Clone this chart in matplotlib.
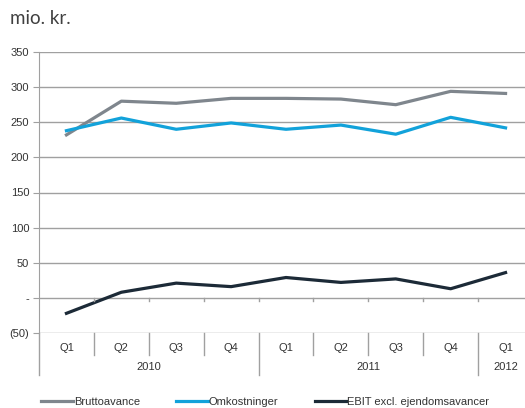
import matplotlib
matplotlib.use("Agg")
import matplotlib.pyplot as plt

# Data (mio. kr.)
kvartaler = ["Q1", "Q2", "Q3", "Q4", "Q1", "Q2", "Q3", "Q4", "Q1"]
aar = ["2010", "2011", "2012"]
aar_antal = [4, 4, 1]
bruttoavance = [232, 280, 277, 284, 284, 283, 275, 294, 291]
omkostninger = [238, 256, 240, 249, 240, 246, 233, 257, 242]
ebit = [-22, 8, 21, 16, 29, 22, 27, 13, 36]
y_ticks = [-50, 0, 50, 100, 150, 200, 250, 300, 350]
y_labels = ["(50)", "-", "50", "100", "150", "200", "250", "300", "350"]

GRID = "#a0a0a0"
TXT = "#333333"

plt.rcParams["font.family"] = ["Liberation Sans", "DejaVu Sans"]

fig = plt.figure(figsize=(5.25, 4.08), dpi=100)
W, H = 525, 408
ax = fig.add_axes([39 / W, (H - 333) / H, (533 - 39) / W, (333 - 52) / H])

x = list(range(len(kvartaler)))
ax.plot(x, bruttoavance, color="#7f868d", lw=2.3, label="Bruttoavance", solid_joinstyle="round")
ax.plot(x, omkostninger, color="#12a2da", lw=2.3, label="Omkostninger", solid_joinstyle="round")
ax.plot(x, ebit, color="#1c2a37", lw=2.3, label="EBIT excl. ejendomsavancer", solid_joinstyle="round")

ax.set_xlim(-0.5, len(kvartaler) - 0.5)
ax.set_ylim(-50, 350)
ax.set_yticks(y_ticks)
ax.set_yticklabels(y_labels)
ax.tick_params(axis="y", length=4, color=GRID, labelsize=8, labelcolor=TXT, pad=3)
ax.set_xticks([])
for yv in y_ticks:
    ax.axhline(yv, color=GRID, lw=1, zorder=0)
for s in ["top", "right", "bottom"]:
    ax.spines[s].set_visible(False)
ax.spines["left"].set_color(GRID)
ax.spines["left"].set_bounds(-50, 350)

# small ticks on the zero line
for b in range(1, len(kvartaler)):
    ax.plot([b - 0.5, b - 0.5], [0, -5], color=GRID, lw=1, clip_on=False)

# kategori-akse under plottet
ax.plot([-0.5, -0.5], [-50, -110], color=GRID, lw=1, clip_on=False)
for i, q in enumerate(kvartaler):
    ax.text(i, -71, q, ha="center", va="center", fontsize=8, color=TXT)
grp_start = 0
for navn, n in zip(aar, aar_antal):
    midt = grp_start + (n - 1) / 2
    ax.text(midt, -98.5, navn, ha="center", va="center", fontsize=8, color=TXT)
    for j in range(1, n):
        b = grp_start + j - 0.5
        ax.plot([b, b], [-50, -81], color=GRID, lw=1, clip_on=False)
    grp_start += n
    if grp_start < len(kvartaler):
        b = grp_start - 0.5
        ax.plot([b, b], [-50, -110], color=GRID, lw=1, clip_on=False)

fig.text(10 / W, 1 - 18 / H, "mio. kr.", fontsize=13.5, color="#404040", va="center",
         family=["Lato", "DejaVu Sans"])

fig.legend(loc="center left", bbox_to_anchor=(37 / W, 1 - 402 / H), ncol=3, frameon=False,
           fontsize=8, handlelength=2.8, handletextpad=0.1, columnspacing=3.3,
           labelcolor=TXT, borderaxespad=0)

fig.savefig("out.png", dpi=100)
